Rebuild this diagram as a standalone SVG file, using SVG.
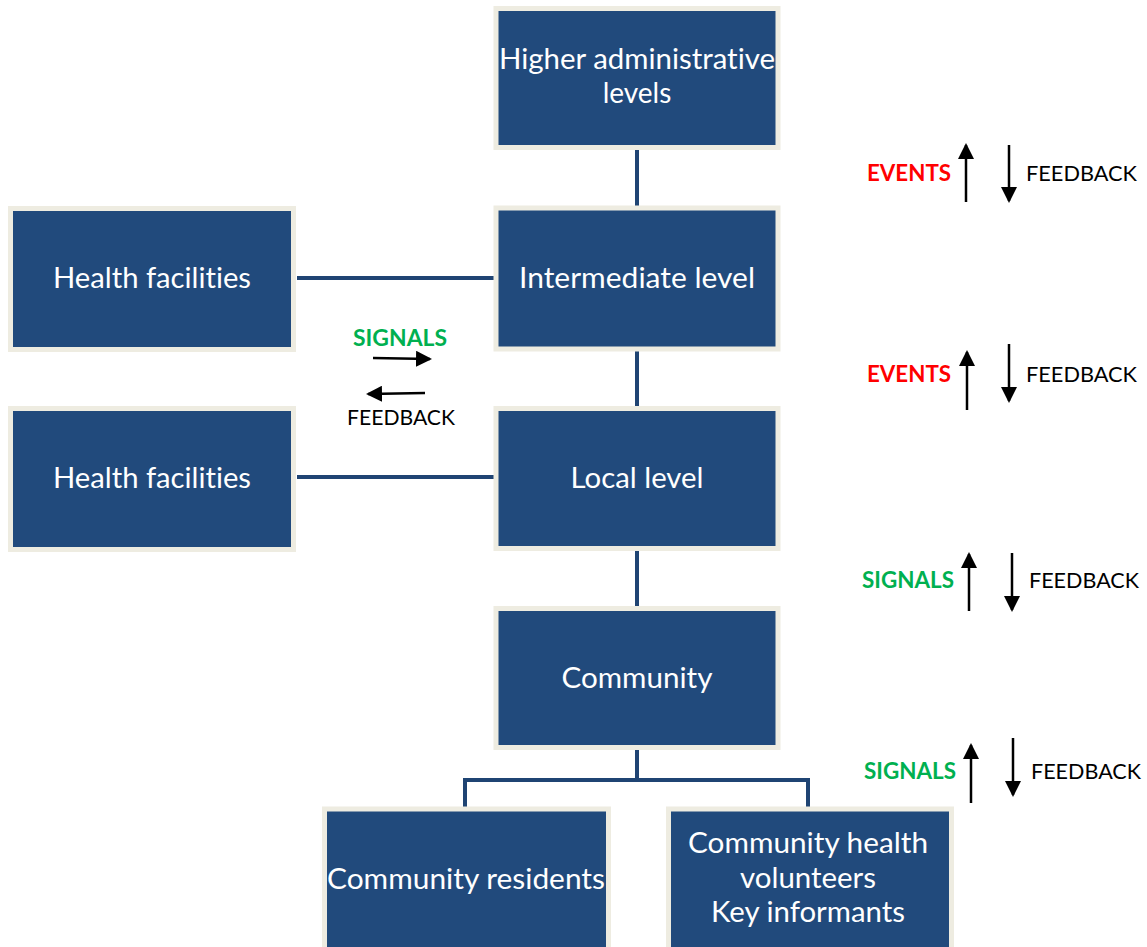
<svg xmlns="http://www.w3.org/2000/svg" width="1147" height="947" viewBox="0 0 1147 947">
<style>
text{font-variant-ligatures:none;font-feature-settings:"liga" 0,"clig" 0}
.box{fill:#214A7C;stroke:#EEECE1;stroke-width:5}
.bt{font-family:Lato,"Open Sans",sans-serif;font-size:28px;fill:#FFFFFF;text-anchor:middle}
.con{stroke:#1F4473;stroke-width:4;fill:none}
.ar{stroke:#000;stroke-width:2.5;fill:none;marker-end:url(#ah)}
.ev{font-family:Lato,"Open Sans",sans-serif;font-size:22px;font-weight:bold;fill:#FF0000}
.sg{font-family:Lato,"Open Sans",sans-serif;font-size:22px;font-weight:bold;fill:#00B050}
.fb{font-family:Lato,"Open Sans",sans-serif;font-size:21px;fill:#000}
</style>
<defs>
<marker id="ah" markerUnits="userSpaceOnUse" markerWidth="16" markerHeight="16" refX="14" refY="8" orient="auto">
<path d="M0,0 L16,8 L0,16 Z" fill="#000"/>
</marker>
</defs>
<rect width="1147" height="947" fill="#FFFFFF"/>
<g id="connectors">
<line class="con" x1="637" y1="150" x2="637" y2="206"/>
<line class="con" x1="297" y1="278" x2="494" y2="278"/>
<line class="con" x1="637" y1="350" x2="637" y2="407"/>
<line class="con" x1="297" y1="477" x2="494" y2="477"/>
<line class="con" x1="637" y1="550" x2="637" y2="607"/>
<line class="con" x1="637" y1="750" x2="637" y2="780"/>
<polyline class="con" points="465,807 465,780 808,780 808,807"/>
</g>
<g id="n-higher">
<rect class="box" x="496" y="8.5" width="282" height="139"/>
<text class="bt" x="637" y="69" textLength="276" lengthAdjust="spacingAndGlyphs">Higher administrative</text>
<text class="bt" x="637" y="103">levels</text>
</g>
<g id="n-intermediate">
<rect class="box" x="496" y="208" width="282" height="141"/>
<text class="bt" x="637" y="288" textLength="236" lengthAdjust="spacingAndGlyphs">Intermediate level</text>
</g>
<g id="n-hf1">
<rect class="box" x="10.5" y="208.5" width="283" height="141"/>
<text class="bt" x="152" y="288" textLength="198" lengthAdjust="spacingAndGlyphs">Health facilities</text>
</g>
<g id="n-local">
<rect class="box" x="496" y="408.5" width="282" height="140"/>
<text class="bt" x="637" y="488" textLength="133" lengthAdjust="spacingAndGlyphs">Local level</text>
</g>
<g id="n-hf2">
<rect class="box" x="10.5" y="408.5" width="283" height="141"/>
<text class="bt" x="152" y="488" textLength="198" lengthAdjust="spacingAndGlyphs">Health facilities</text>
</g>
<g id="n-community">
<rect class="box" x="496" y="608.5" width="282" height="139"/>
<text class="bt" x="637" y="688" textLength="151" lengthAdjust="spacingAndGlyphs">Community</text>
</g>
<g id="n-residents">
<rect class="box" x="324.5" y="809" width="284" height="150"/>
<text class="bt" x="466" y="889" textLength="278" lengthAdjust="spacingAndGlyphs">Community residents</text>
</g>
<g id="n-volunteers">
<rect class="box" x="668.5" y="809" width="283" height="150"/>
<text class="bt" x="808" y="853" textLength="240" lengthAdjust="spacingAndGlyphs">Community health</text>
<text class="bt" x="808" y="888" textLength="136" lengthAdjust="spacingAndGlyphs">volunteers</text>
<text class="bt" x="808" y="922" textLength="194" lengthAdjust="spacingAndGlyphs">Key informants</text>
</g>
<g id="labels">
<text class="ev" x="867" y="181" textLength="84" lengthAdjust="spacingAndGlyphs">EVENTS</text>
<line class="ar" x1="966" y1="202" x2="966" y2="145"/>
<line class="ar" x1="1009" y1="145" x2="1009" y2="201"/>
<text class="fb" x="1026" y="181" textLength="111" lengthAdjust="spacingAndGlyphs">FEEDBACK</text>

<text class="ev" x="867" y="382" textLength="84" lengthAdjust="spacingAndGlyphs">EVENTS</text>
<line class="ar" x1="967" y1="410" x2="967" y2="352"/>
<line class="ar" x1="1009" y1="344" x2="1009" y2="401"/>
<text class="fb" x="1026" y="382" textLength="111" lengthAdjust="spacingAndGlyphs">FEEDBACK</text>

<text class="sg" x="862" y="588" textLength="92" lengthAdjust="spacingAndGlyphs">SIGNALS</text>
<line class="ar" x1="969" y1="611" x2="969" y2="554"/>
<line class="ar" x1="1012" y1="553" x2="1012" y2="610"/>
<text class="fb" x="1029" y="588" textLength="110" lengthAdjust="spacingAndGlyphs">FEEDBACK</text>

<text class="sg" x="864" y="779" textLength="92" lengthAdjust="spacingAndGlyphs">SIGNALS</text>
<line class="ar" x1="971" y1="803" x2="971" y2="745"/>
<line class="ar" x1="1013" y1="738" x2="1013" y2="795"/>
<text class="fb" x="1031" y="779" textLength="110" lengthAdjust="spacingAndGlyphs">FEEDBACK</text>

<text class="sg" x="353" y="346" textLength="94" lengthAdjust="spacingAndGlyphs">SIGNALS</text>
<line class="ar" x1="373" y1="358" x2="430" y2="359"/>
<line class="ar" x1="425" y1="393" x2="368" y2="394"/>
<text class="fb" x="347" y="425" textLength="108" lengthAdjust="spacingAndGlyphs">FEEDBACK</text>
</g>
</svg>
